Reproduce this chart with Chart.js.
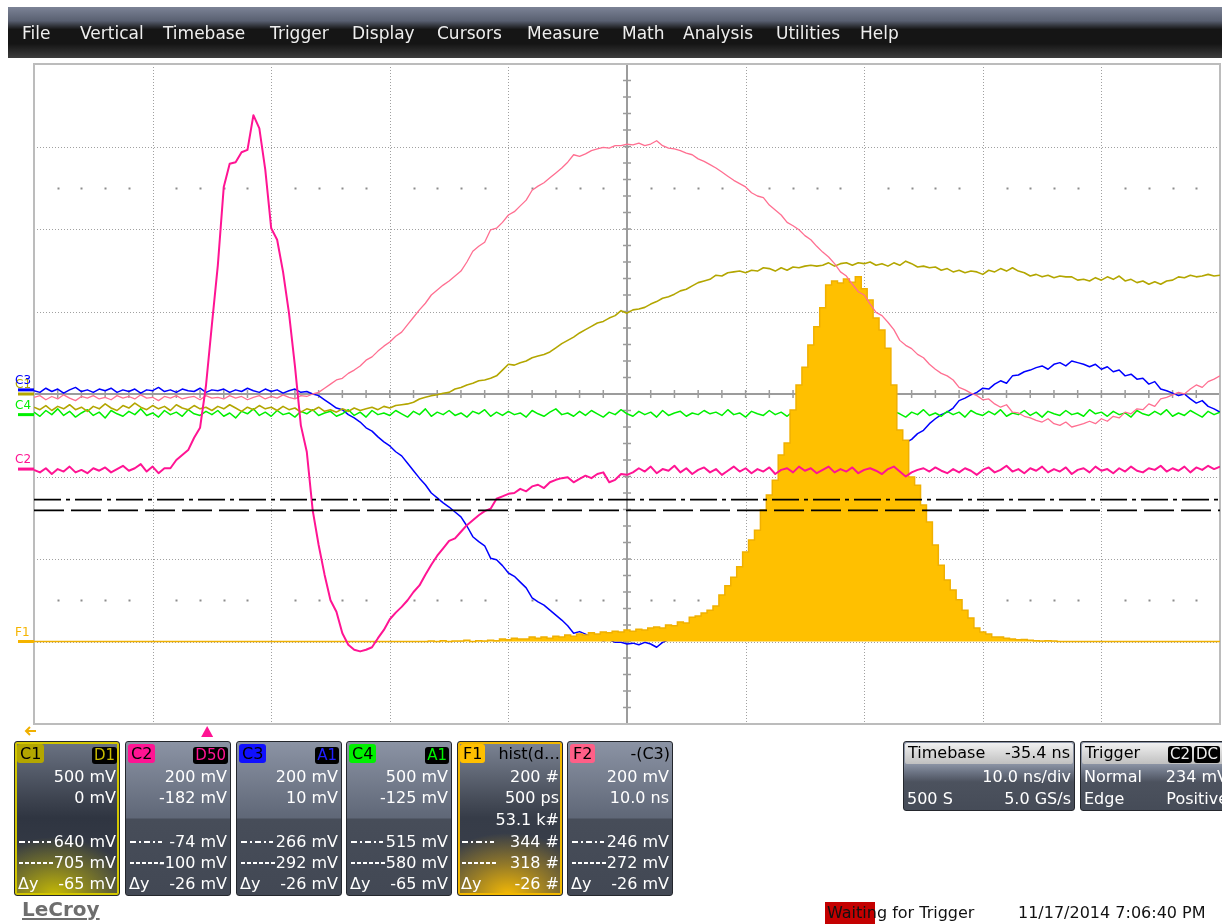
<!DOCTYPE html>
<html>
<head>
<meta charset="utf-8">
<title>LeCroy capture</title>
<script src="https://cdn.jsdelivr.net/npm/chart.js@4.4.1/dist/chart.umd.min.js"></script>
<style>
  body { margin: 0; width: 1222px; height: 924px; overflow: hidden; background: #fff; position: relative; font-family: "DejaVu Sans", sans-serif; }
  #scope { position: absolute; left: 0; top: 0; }
  .menu { position: absolute; left: 8px; top: 7px; width: 1214px; height: 51px; background: linear-gradient(#7c8396 0%, #596071 27%, #151515 44%, #151515 72%, #3d3d3d 100%); }
  .menu span { position: absolute; top: 0; line-height: 52px; font-size: 17px; color: #eee; }
  .box { position: absolute; top: 741px; width: 106px; height: 155px; box-sizing: border-box; border: 1px solid #24272d; border-radius: 3px; overflow: hidden; color: #fff; font-size: 16px;
         background: linear-gradient(#8b93a4 0px, #5f6777 76px, #474d59 77px, #424854 155px); }
  .box.sel-c1 { box-shadow: inset 0 0 0 2px #d2c600;
         background: radial-gradient(ellipse 80px 58px at 38% 100%, rgba(205,192,0,0.95) 0%, rgba(205,192,0,0.45) 50%, rgba(205,192,0,0) 100%), linear-gradient(#6b7383 0px, #3b414d 60px, #2f3541 76px, #3b404b 155px); }
  .box.sel-f1 { box-shadow: inset 0 0 0 2px #f2b800;
         background: radial-gradient(ellipse 85px 62px at 48% 100%, rgba(255,192,0,0.95) 0%, rgba(255,192,0,0.45) 50%, rgba(255,192,0,0) 100%), linear-gradient(#7c8494 0px, #444a56 60px, #363c48 76px, #3b404b 155px); }
  .tag { position: absolute; left: 2px; top: 2px; height: 19px; padding: 0 3px; border-radius: 3px; color: #000; line-height: 19px; }
  .src { position: absolute; right: 2px; top: 5px; height: 17px; padding: 0 2px; border-radius: 3px; background: #000; line-height: 17px; font-size: 15px; }
  .fn { position: absolute; right: 2px; top: 2px; line-height: 19px; color: #000; white-space: nowrap; }
  .r { position: absolute; right: 3px; line-height: 20px; white-space: nowrap; }
  .l { position: absolute; left: 3px; line-height: 20px; white-space: nowrap; }
  .dd { position: absolute; left: 4px; width: 32px; height: 2px; top: 99px; background: repeating-linear-gradient(to right, #fff 0 6px, transparent 6px 9px, #fff 9px 11px, transparent 11px 14px); }
  .ds { position: absolute; left: 4px; width: 36px; height: 2px; top: 120px; background: repeating-linear-gradient(to right, #fff 0 4px, transparent 4px 6px); }
  .info { position: absolute; top: 741px; height: 70px; box-sizing: border-box; border: 1px solid #24272d; border-radius: 3px; overflow: hidden; color: #fff; font-size: 16px;
          background: linear-gradient(#8b93a4 22px, #6d7585 30px, #4c525e 40px, #454b57 70px); }
  .hd { position: absolute; left: 1px; right: 1px; top: 1px; height: 21px; border-radius: 2px; background: linear-gradient(#f0f0f0, #c0c0c0); color: #000; }
  .blk { position: absolute; top: 3px; height: 17px; line-height: 17px; padding: 0 2px; border-radius: 3px; background: #000; color: #eee; font-size: 15px; }
  .logo { position: absolute; left: 22px; top: 897px; font-size: 20px; font-weight: bold; color: #6e6e6e; text-decoration: underline; text-decoration-thickness: 2px; text-underline-offset: 2px; }
  .status { position: absolute; top: 903px; line-height: 20px; font-size: 16px; color: #111; white-space: nowrap; }
</style>
</head>
<body>
<canvas id="scope" width="1222" height="924"></canvas>

<div class="menu">
  <span style="left:14px">File</span>
  <span style="left:72px">Vertical</span>
  <span style="left:155px">Timebase</span>
  <span style="left:262px">Trigger</span>
  <span style="left:344px">Display</span>
  <span style="left:429px">Cursors</span>
  <span style="left:519px">Measure</span>
  <span style="left:614px">Math</span>
  <span style="left:675px">Analysis</span>
  <span style="left:768px">Utilities</span>
  <span style="left:852px">Help</span>
</div>

<div class="box sel-c1" style="left:14px">
  <span class="tag" style="background:#b3a600">C1</span><span class="src" style="color:#c8bb00">D1</span>
  <div class="r" style="top:25px">500 mV</div>
  <div class="r" style="top:46px">0 mV</div>
  <div class="dd"></div><div class="r" style="top:90px">640 mV</div>
  <div class="ds"></div><div class="r" style="top:111px">705 mV</div>
  <div class="l" style="top:132px">Δy</div><div class="r" style="top:132px">-65 mV</div>
</div>
<div class="box" style="left:125px">
  <span class="tag" style="background:#ff1493">C2</span><span class="src" style="color:#ff1493">D50</span>
  <div class="r" style="top:25px">200 mV</div>
  <div class="r" style="top:46px">-182 mV</div>
  <div class="dd"></div><div class="r" style="top:90px">-74 mV</div>
  <div class="ds"></div><div class="r" style="top:111px">-100 mV</div>
  <div class="l" style="top:132px">Δy</div><div class="r" style="top:132px">-26 mV</div>
</div>
<div class="box" style="left:236px">
  <span class="tag" style="background:#1010ff">C3</span><span class="src" style="color:#2020ff">A1</span>
  <div class="r" style="top:25px">200 mV</div>
  <div class="r" style="top:46px">10 mV</div>
  <div class="dd"></div><div class="r" style="top:90px">266 mV</div>
  <div class="ds"></div><div class="r" style="top:111px">292 mV</div>
  <div class="l" style="top:132px">Δy</div><div class="r" style="top:132px">-26 mV</div>
</div>
<div class="box" style="left:346px">
  <span class="tag" style="background:#00f000">C4</span><span class="src" style="color:#00f000">A1</span>
  <div class="r" style="top:25px">500 mV</div>
  <div class="r" style="top:46px">-125 mV</div>
  <div class="dd"></div><div class="r" style="top:90px">515 mV</div>
  <div class="ds"></div><div class="r" style="top:111px">580 mV</div>
  <div class="l" style="top:132px">Δy</div><div class="r" style="top:132px">-65 mV</div>
</div>
<div class="box sel-f1" style="left:457px">
  <span class="tag" style="background:#ffc000">F1</span><span class="fn">hist(d…</span>
  <div class="r" style="top:25px">200 #</div>
  <div class="r" style="top:46px">500 ps</div>
  <div class="r" style="top:68px">53.1 k#</div>
  <div class="dd"></div><div class="r" style="top:90px">344 #</div>
  <div class="ds"></div><div class="r" style="top:111px">318 #</div>
  <div class="l" style="top:132px">Δy</div><div class="r" style="top:132px">-26 #</div>
</div>
<div class="box" style="left:567px">
  <span class="tag" style="background:#ff5f87">F2</span><span class="fn">-(C3)</span>
  <div class="r" style="top:25px">200 mV</div>
  <div class="r" style="top:46px">10.0 ns</div>
  <div class="dd"></div><div class="r" style="top:90px">246 mV</div>
  <div class="ds"></div><div class="r" style="top:111px">272 mV</div>
  <div class="l" style="top:132px">Δy</div><div class="r" style="top:132px">-26 mV</div>
</div>

<div class="info" style="left:903px; width:172px">
  <div class="hd"><span class="l" style="top:0">Timebase</span><span class="r" style="top:0">-35.4 ns</span></div>
  <div class="r" style="top:25px">10.0 ns/div</div>
  <div class="l" style="top:47px">500 S</div><div class="r" style="top:47px">5.0 GS/s</div>
</div>
<div class="info" style="left:1080px; width:152px">
  <div class="hd"><span class="l" style="top:0">Trigger</span><span class="blk" style="left:86px">C2</span><span class="blk" style="left:112px">DC</span></div>
  <div class="l" style="top:25px">Normal</div><div class="r" style="top:25px">234 mV</div>
  <div class="l" style="top:47px">Edge</div><div class="r" style="top:47px">Positive</div>
</div>

<div class="logo">LeCroy</div>
<div style="position:absolute; left:825px; top:902px; width:50px; height:22px; background:#c40000"></div>
<div class="status" style="left:827px">Waiting for Trigger</div>
<div class="status" style="left:1018px">11/17/2014 7:06:40 PM</div>

<script>
// screen: 10 horizontal divisions of 10 ns, 8 vertical divisions
const samplePeriodNs = 0.5
const xMinNs = 0
const xMaxNs = 100
const nsPerDiv = 10
const yMinDiv = -4
const yMaxDiv = 4
const triggerNs = 14.6

const channelNames = ['C1', 'C2', 'C3', 'C4']
const channelColors = ['#b3a600', '#ff1493', '#0000ff', '#00f000']
const channelScaleMv = [500, 200, 200, 500]
const channelOffsetMv = [0, -182, 10, -125]

// horizontal cursors, read on C2 (mV)
const cursorLevelsMv = [-74, -100]

// traces, in screen divisions, one value per 0.5 ns sample
const c1Div = [
  -0.16, -0.19, -0.14, -0.2, -0.15, -0.18, -0.13, -0.19, -0.16, -0.21,
  -0.15, -0.18, -0.12, -0.17, -0.2, -0.14, -0.17, -0.11, -0.16, -0.19,
  -0.14, -0.18, -0.15, -0.2, -0.13, -0.17, -0.19, -0.14, -0.18, -0.16,
  -0.2, -0.15, -0.18, -0.13, -0.17, -0.21, -0.16, -0.19, -0.14, -0.18,
  -0.16, -0.2, -0.15, -0.19, -0.17, -0.22, -0.18, -0.2, -0.16, -0.21,
  -0.19, -0.22, -0.18, -0.21, -0.17, -0.2, -0.18, -0.16, -0.19, -0.15,
  -0.17, -0.14, -0.13, -0.12, -0.1, -0.06, -0.04, -0.02, -0.01, 0.01,
  0.02, 0.06, 0.08, 0.11, 0.13, 0.16, 0.17, 0.19, 0.22, 0.29,
  0.36, 0.35, 0.38, 0.4, 0.44, 0.46, 0.48, 0.51, 0.56, 0.61,
  0.65, 0.69, 0.74, 0.78, 0.82, 0.86, 0.88, 0.92, 0.95, 1.01,
  0.98, 1.02, 1.03, 1.05, 1.09, 1.12, 1.16, 1.18, 1.21, 1.25,
  1.27, 1.31, 1.35, 1.37, 1.39, 1.44, 1.43, 1.47, 1.48, 1.49,
  1.47, 1.5, 1.49, 1.53, 1.52, 1.49, 1.53, 1.5, 1.54, 1.53,
  1.55, 1.56, 1.55, 1.56, 1.59, 1.55, 1.58, 1.59, 1.56, 1.59,
  1.58, 1.6, 1.56, 1.58, 1.55, 1.59, 1.56, 1.61, 1.58, 1.54,
  1.55, 1.53, 1.54, 1.5, 1.52, 1.48, 1.5, 1.47, 1.49, 1.48,
  1.45, 1.5, 1.48, 1.52, 1.49, 1.53, 1.49, 1.47, 1.43, 1.45,
  1.42, 1.44, 1.41, 1.43, 1.42, 1.42, 1.38, 1.39, 1.37, 1.41,
  1.38, 1.42, 1.39, 1.43, 1.37, 1.39, 1.35, 1.37, 1.33, 1.36,
  1.33, 1.37, 1.38, 1.42, 1.41, 1.44, 1.42, 1.43, 1.45, 1.43,
  1.44
]

const c2Div = [
  -0.92, -0.95, -0.9, -0.97, -0.91, -0.94, -0.88, -0.95, -0.92, -0.96,
  -0.9, -0.93, -0.89, -0.95, -0.91, -0.87, -0.93, -0.9, -0.85, -0.94,
  -0.88, -0.96, -0.9, -0.9, -0.8, -0.74, -0.68, -0.53, -0.41, 0.1,
  0.84, 1.56, 2.51, 2.79, 2.81, 2.93, 2.96, 3.38, 3.22, 2.72,
  2.01, 1.87, 1.48, 0.98, 0.34, -0.38, -0.7, -1.41, -1.83, -2.19,
  -2.5, -2.64, -2.9, -3.04, -3.1, -3.12, -3.1, -3.07, -2.96, -2.86,
  -2.73, -2.65, -2.58, -2.5, -2.4, -2.32, -2.19, -2.07, -1.96, -1.87,
  -1.78, -1.75, -1.67, -1.59, -1.53, -1.47, -1.42, -1.39, -1.27, -1.24,
  -1.21, -1.2, -1.15, -1.18, -1.12, -1.1, -1.14, -1.07, -1.04, -1.02,
  -1.01, -1.07, -1.03, -0.99, -1.02, -0.97, -0.95, -1.07, -1.04, -0.97,
  -0.98, -0.95, -0.9, -0.94, -0.88, -0.96, -0.91, -0.93, -0.87, -0.95,
  -0.9, -0.97, -0.92, -0.89, -0.95, -0.91, -0.98, -0.93, -0.88, -0.94,
  -0.9, -0.96, -0.91, -0.94, -0.89, -0.97, -0.92, -0.9, -0.95, -0.88,
  -0.93, -0.9, -0.96, -0.92, -0.88, -0.95, -0.91, -0.94, -0.89, -0.96,
  -0.92, -0.9, -0.93, -0.97, -0.91, -0.88, -0.94, -1.0, -0.95, -0.92,
  -0.9, -0.94, -0.89, -0.93, -0.96, -0.91, -0.95, -0.9, -0.93, -0.98,
  -0.92, -0.89, -0.95, -0.92, -0.87, -0.94, -0.91, -0.96, -0.9, -0.93,
  -0.88, -0.95, -0.91, -0.94, -0.89, -0.97, -0.92, -0.9, -0.95, -0.88,
  -0.93, -0.91, -0.96, -0.9, -0.94, -0.88, -0.93, -0.95, -0.9, -0.92,
  -0.87, -0.94, -0.9, -0.93, -0.88, -0.95, -0.89, -0.92, -0.87, -0.91,
  -0.88
]

const c3Div = [
  0.04, 0.02, 0.07, 0.03, 0.06, 0.01, 0.05, 0.08, 0.03, 0.05,
  0.02, 0.06, 0.04, 0.07, 0.02, 0.05, 0.03, 0.06, 0.01, 0.05,
  0.04, 0.08, 0.03, 0.05, 0.02, 0.06, 0.04, 0.03, 0.07, 0.02,
  0.05, 0.04, 0.06, 0.02, 0.05, 0.03, 0.07, 0.04, 0.02, 0.06,
  0.03, 0.05, 0.01, 0.04, 0.06, 0.02, 0.03, 0.0, -0.02, -0.07,
  -0.12, -0.17, -0.19, -0.25, -0.29, -0.34, -0.41, -0.45, -0.52, -0.58,
  -0.63, -0.7, -0.75, -0.84, -0.93, -1.02, -1.1, -1.2, -1.26, -1.32,
  -1.37, -1.43, -1.49, -1.6, -1.73, -1.79, -1.84, -1.99, -2.01, -2.08,
  -2.17, -2.21, -2.28, -2.35, -2.47, -2.52, -2.56, -2.62, -2.68, -2.74,
  -2.81, -2.9, -2.88, -2.91, -2.95, -2.97, -2.99, -2.98, -3.01, -3.01,
  -3.03, -3.02, -3.04, -3.01, -3.03, -3.07, -3.01, -2.98, -2.97, -2.95,
  -2.92, -2.9, -2.85, -2.82, -2.78, -2.74, -2.69, -2.64, -2.59, -2.55,
  -2.51, -2.44, -2.4, -2.38, -2.29, -2.23, -2.17, -2.08, -2.04, -1.99,
  -1.92, -1.87, -1.79, -1.72, -1.66, -1.58, -1.48, -1.43, -1.33, -1.24,
  -1.2, -1.09, -0.99, -0.95, -0.87, -0.78, -0.65, -0.59, -0.55, -0.48,
  -0.44, -0.36, -0.3, -0.25, -0.22, -0.17, -0.08, -0.05, -0.01, 0.02,
  0.07, 0.06, 0.12, 0.16, 0.13, 0.22, 0.23, 0.27, 0.29, 0.32,
  0.34, 0.3, 0.36, 0.38, 0.34, 0.4, 0.38, 0.36, 0.33, 0.36,
  0.3, 0.33, 0.27, 0.29, 0.22, 0.24, 0.18, 0.19, 0.12, 0.15,
  0.06, 0.04, 0.01, -0.02, 0.0, -0.06, -0.11, -0.08, -0.15, -0.18,
  -0.22
]

const c4Div = [
  -0.22, -0.27, -0.2, -0.25, -0.18, -0.26, -0.21, -0.28, -0.23, -0.19,
  -0.26, -0.22, -0.29, -0.2, -0.24, -0.27, -0.21, -0.25, -0.18, -0.26,
  -0.23, -0.28, -0.2, -0.25, -0.22, -0.27, -0.19, -0.24, -0.26, -0.21,
  -0.25, -0.2, -0.27, -0.23, -0.29, -0.21, -0.24, -0.18, -0.26, -0.22,
  -0.27, -0.2, -0.25, -0.23, -0.28, -0.21, -0.24, -0.19, -0.26, -0.23,
  -0.21, -0.27, -0.24, -0.19, -0.26, -0.22, -0.28, -0.2, -0.25, -0.23,
  -0.26, -0.2, -0.24, -0.28, -0.21, -0.25, -0.18, -0.27, -0.22, -0.25,
  -0.2, -0.26, -0.23, -0.28, -0.21, -0.24, -0.19, -0.27, -0.22, -0.26,
  -0.21, -0.25, -0.23, -0.28, -0.2, -0.24, -0.27, -0.22, -0.18, -0.25,
  -0.23, -0.27, -0.21, -0.26, -0.2, -0.24, -0.28, -0.22, -0.25, -0.19,
  -0.24, -0.27, -0.21, -0.25, -0.22, -0.28, -0.2, -0.26, -0.23, -0.21,
  -0.27, -0.23, -0.25, -0.2, -0.24, -0.22, -0.26, -0.19, -0.25, -0.23,
  -0.28, -0.21, -0.24, -0.26, -0.2, -0.25, -0.22, -0.27, -0.21, -0.24,
  -0.19, -0.26, -0.23, -0.28, -0.21, -0.25, -0.2, -0.24, -0.27, -0.22,
  -0.25, -0.2, -0.27, -0.23, -0.26, -0.21, -0.24, -0.28, -0.22, -0.25,
  -0.19, -0.26, -0.23, -0.27, -0.21, -0.25, -0.22, -0.28, -0.2, -0.24,
  -0.26, -0.21, -0.25, -0.19, -0.27, -0.23, -0.25, -0.2, -0.26, -0.22,
  -0.28, -0.21, -0.24, -0.26, -0.2, -0.25, -0.23, -0.27, -0.19, -0.24,
  -0.22, -0.27, -0.21, -0.25, -0.23, -0.28, -0.2, -0.24, -0.26, -0.21,
  -0.25, -0.19, -0.27, -0.23, -0.26, -0.2, -0.24, -0.28, -0.21, -0.25,
  -0.22
]

// F2 = -(C3)
const f2Div = [
  -0.04, -0.02, -0.07, -0.03, -0.06, -0.01, -0.05, -0.08, -0.03, -0.05,
  -0.02, -0.06, -0.04, -0.07, -0.02, -0.05, -0.03, -0.06, -0.01, -0.05,
  -0.04, -0.08, -0.03, -0.05, -0.02, -0.06, -0.04, -0.03, -0.07, -0.02,
  -0.05, -0.04, -0.06, -0.02, -0.05, -0.03, -0.07, -0.04, -0.02, -0.06,
  -0.03, -0.05, -0.01, -0.04, -0.06, -0.02, -0.03, 0.0, 0.02, 0.07,
  0.12, 0.17, 0.19, 0.25, 0.29, 0.34, 0.41, 0.45, 0.52, 0.58,
  0.63, 0.7, 0.75, 0.84, 0.93, 1.02, 1.1, 1.2, 1.26, 1.32,
  1.37, 1.43, 1.49, 1.6, 1.73, 1.79, 1.84, 1.99, 2.01, 2.08,
  2.17, 2.21, 2.28, 2.35, 2.47, 2.52, 2.56, 2.62, 2.68, 2.74,
  2.81, 2.9, 2.88, 2.91, 2.95, 2.97, 2.99, 2.98, 3.01, 3.01,
  3.03, 3.02, 3.04, 3.01, 3.03, 3.07, 3.01, 2.98, 2.97, 2.95,
  2.92, 2.9, 2.85, 2.82, 2.78, 2.74, 2.69, 2.64, 2.59, 2.55,
  2.51, 2.44, 2.4, 2.38, 2.29, 2.23, 2.17, 2.08, 2.04, 1.99,
  1.92, 1.87, 1.79, 1.72, 1.66, 1.58, 1.48, 1.43, 1.33, 1.24,
  1.2, 1.09, 0.99, 0.95, 0.87, 0.78, 0.65, 0.59, 0.55, 0.48,
  0.44, 0.36, 0.3, 0.25, 0.22, 0.17, 0.08, 0.05, 0.01, -0.02,
  -0.07, -0.06, -0.12, -0.16, -0.13, -0.22, -0.23, -0.27, -0.29, -0.32,
  -0.34, -0.3, -0.36, -0.38, -0.34, -0.4, -0.38, -0.36, -0.33, -0.36,
  -0.3, -0.33, -0.27, -0.29, -0.22, -0.24, -0.18, -0.19, -0.12, -0.15,
  -0.06, -0.04, -0.01, 0.02, 0.0, 0.06, 0.11, 0.08, 0.15, 0.18,
  0.22
]

// F1 histogram: counts per 0.5 ns bin, 200 counts per division, zero at -3 div
const f1CountsPerDiv = 200
const f1BaseDiv = -3
const f1Counts = [
  0, 0, 0, 0, 0, 0, 0, 0, 0, 0,
  0, 0, 0, 0, 0, 0, 0, 0, 0, 0,
  0, 0, 0, 0, 0, 0, 0, 0, 0, 0,
  0, 0, 0, 0, 0, 0, 0, 0, 0, 0,
  0, 0, 0, 0, 0, 0, 0, 0, 0, 0,
  0, 0, 0, 0, 0, 0, 0, 0, 0, 0,
  0, 0, 0, 0, 0, 0, 0, 1, 0, 2,
  0, 1, 1, 3, 0, 2, 1, 3, 2, 6,
  4, 8, 6, 6, 11, 8, 11, 8, 13, 11,
  16, 13, 18, 16, 21, 18, 23, 21, 25, 23,
  28, 25, 30, 28, 33, 35, 33, 40, 38, 47,
  45, 59, 62, 69, 76, 86, 113, 135, 156, 181,
  217, 246, 270, 319, 355, 391, 452, 481, 561, 622,
  665, 719, 763, 809, 864, 874, 869, 879, 871, 884,
  855, 828, 784, 755, 711, 622, 513, 488, 399, 379,
  331, 290, 234, 185, 149, 125, 101, 76, 57, 33,
  23, 18, 11, 11, 8, 6, 4, 5, 3, 2,
  1, 2, 1, 0, 0, 0, 0, 0, 0, 0,
  0, 0, 0, 0, 0, 0, 0, 0, 0, 0,
  0, 0, 0, 0, 0, 0, 0, 0, 0, 0,
  0
]

const timeNs = c1Div.map((_, i) => xMinNs + i * samplePeriodNs)
const toPoints = values => values.map((v, i) => ({x: timeNs[i], y: v}))

const trace = (label, values, color, width, order) => ({
  label: label,
  data: toPoints(values),
  borderColor: color,
  borderWidth: width,
  borderJoinStyle: 'round',
  pointRadius: 0,
  fill: false,
  order: order
})

const c2 = channelNames.indexOf('C2')
const cursorDiv = cursorLevelsMv.map(mv => (mv + channelOffsetMv[c2]) / channelScaleMv[c2])
const cursorLine = (level, dash) => ({
  label: 'cursor',
  data: [{x: xMinNs, y: level}, {x: xMaxNs, y: level}],
  borderColor: '#000',
  borderWidth: 1.6,
  borderDash: dash,
  pointRadius: 0,
  fill: false,
  order: 0
})

const histogram = {
  label: 'F1',
  data: f1Counts.map((c, i) => ({x: timeNs[i], y: f1BaseDiv + c / f1CountsPerDiv})),
  stepped: 'middle',
  borderColor: '#f0b000',
  borderWidth: 1.5,
  backgroundColor: '#ffc000',
  pointRadius: 0,
  fill: {value: f1BaseDiv},
  order: 4
}

const markerDiv = channelOffsetMv.map((mv, i) => mv / channelScaleMv[i])

// graticule, centre cross, channel markers
const scopeDecor = {
  id: 'scopeDecor',
  beforeDatasetsDraw(chart) {
    const {ctx, chartArea: a, scales: {x, y}} = chart
    const px = v => Math.round(x.getPixelForValue(v)) + 0.5
    const py = v => Math.round(y.getPixelForValue(v)) + 0.5
    ctx.save()
    ctx.fillStyle = '#fff'
    ctx.fillRect(a.left, a.top, a.width, a.height)

    ctx.strokeStyle = '#a0a0a0'
    ctx.lineWidth = 1
    ctx.setLineDash([1, 2])
    ctx.beginPath()
    for (let k = 1; k < 10; k++) {
      if (k === 5) continue
      ctx.moveTo(px(k * nsPerDiv), a.top)
      ctx.lineTo(px(k * nsPerDiv), a.bottom)
    }
    for (let d = yMinDiv + 1; d < yMaxDiv; d++) {
      if (d === 0) continue
      ctx.moveTo(a.left, py(d))
      ctx.lineTo(a.right, py(d))
    }
    ctx.stroke()
    ctx.setLineDash([])

    ctx.fillStyle = '#8c8c8c'
    for (const d of [-2.5, 2.5]) {
      for (let k = 1; k < 50; k++) {
        if (k % 5 === 0) continue
        ctx.fillRect(px(k * nsPerDiv / 5) - 1, py(d) - 1, 2, 2)
      }
    }

    const cx = Math.round(x.getPixelForValue(xMaxNs / 2))
    const cy = Math.round(y.getPixelForValue(0))
    ctx.strokeStyle = '#9c9c9c'
    ctx.lineWidth = 2
    ctx.beginPath()
    ctx.moveTo(cx, a.top); ctx.lineTo(cx, a.bottom)
    ctx.moveTo(a.left, cy); ctx.lineTo(a.right, cy)
    ctx.stroke()
    ctx.lineWidth = 1.5
    ctx.beginPath()
    for (let k = 1; k < 50; k++) {
      const tx = x.getPixelForValue(k * nsPerDiv / 5)
      ctx.moveTo(tx, cy - 4); ctx.lineTo(tx, cy + 4)
    }
    for (let k = -19; k < 20; k++) {
      const ty = y.getPixelForValue(k / 5)
      ctx.moveTo(cx - 4, ty); ctx.lineTo(cx + 4, ty)
    }
    ctx.stroke()

    ctx.strokeStyle = '#bcbcbc'
    ctx.lineWidth = 2
    ctx.strokeRect(a.left, a.top, a.width, a.height)
    ctx.restore()
  },
  afterDraw(chart) {
    const {ctx, chartArea: a, scales: {x, y}} = chart
    ctx.save()
    ctx.font = '12px "DejaVu Sans"'
    ctx.textBaseline = 'alphabetic'
    const markers = [
      {name: 'F1', div: f1BaseDiv, color: '#f5b400'},
      ...channelNames.map((name, i) => ({name: name, div: markerDiv[i], color: channelColors[i]}))
    ]
    markers.forEach(m => {
      const my = y.getPixelForValue(m.div)
      ctx.fillStyle = m.color
      ctx.fillText(m.name, 15, my - 6)
      ctx.fillRect(18, my - 1.5, a.left - 18, 3)
    })

    // trigger position
    const tx = x.getPixelForValue(triggerNs)
    ctx.fillStyle = channelColors[c2]
    ctx.beginPath()
    ctx.moveTo(tx, a.bottom + 2)
    ctx.lineTo(tx + 6, a.bottom + 13)
    ctx.lineTo(tx - 6, a.bottom + 13)
    ctx.closePath()
    ctx.fill()

    // C1 horizontal position is off screen to the left
    ctx.strokeStyle = '#f0b000'
    ctx.lineWidth = 2
    ctx.beginPath()
    ctx.moveTo(36, a.bottom + 7); ctx.lineTo(26, a.bottom + 7)
    ctx.moveTo(30, a.bottom + 3); ctx.lineTo(26, a.bottom + 7); ctx.lineTo(30, a.bottom + 11)
    ctx.stroke()
    ctx.restore()
  }
}

new Chart(document.getElementById('scope').getContext('2d'), {
  type: 'line',
  data: {
    datasets: [
      cursorLine(cursorDiv[0], [27, 5, 4, 5]),
      cursorLine(cursorDiv[1], [30, 7]),
      trace('C2', c2Div, channelColors[1], 2, 1),
      trace('F2', f2Div, '#ff6f91', 1.3, 2),
      trace('C1', c1Div, channelColors[0], 1.6, 3),
      histogram,
      trace('C4', c4Div, channelColors[3], 1.5, 5),
      trace('C3', c3Div, channelColors[2], 1.5, 6)
    ]
  },
  options: {
    responsive: false,
    animation: false,
    devicePixelRatio: 1,
    layout: {padding: {left: 34, top: 64, right: 2, bottom: 200}},
    scales: {
      x: {type: 'linear', min: xMinNs, max: xMaxNs, display: false},
      y: {type: 'linear', min: yMinDiv, max: yMaxDiv, display: false}
    },
    plugins: {
      legend: {display: false},
      tooltip: {enabled: false}
    }
  },
  plugins: [scopeDecor]
})
</script>
</body>
</html>
